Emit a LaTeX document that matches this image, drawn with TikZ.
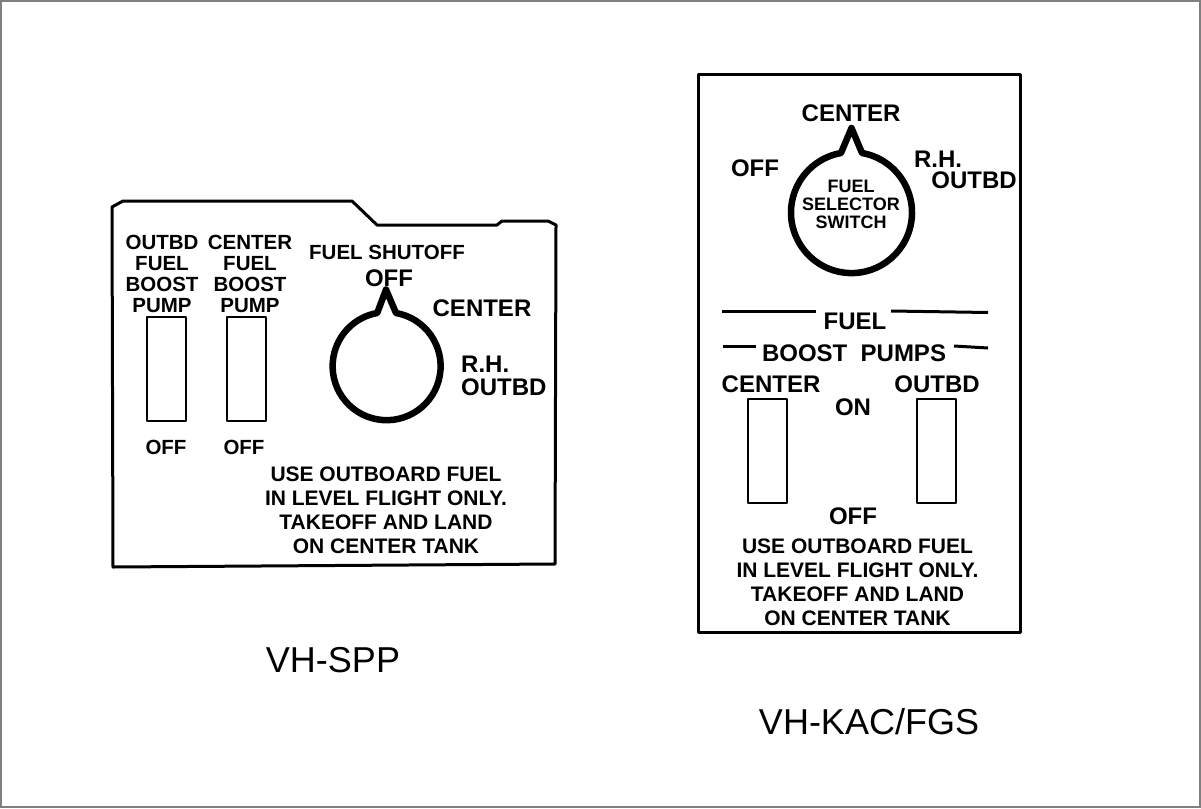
\documentclass[tikz,border=0pt]{standalone}
\usepackage{fontspec}
\setmainfont{Liberation Sans}

\begin{document}
\begin{tikzpicture}[x=1pt, y=-1pt]
        \tikzstyle{every node}=[inner sep=0pt, align=center, font=\bfseries]
        \tikzstyle{small label}=[font=\fontsize{20.5}{21}\selectfont\bfseries]
        \tikzstyle{big label}=[font=\fontsize{24}{23}\selectfont\bfseries]
        \tikzstyle{note}=[font=\fontsize{21}{24}\selectfont\bfseries]
        \tikzstyle{caption}=[font=\fontsize{36}{40}\selectfont\mdseries]
        \tikzstyle{panel}=[draw, line width=3pt, line join=round]
        \tikzstyle{toggle}=[draw, line width=2.8pt, line join=round]
        \tikzstyle{knob}=[draw, line width=6.5pt, line join=round]
        \tikzstyle{rule}=[draw, line width=3pt]

        \useasboundingbox (0,0) rectangle (1201,808);
        \draw[gray, line width=1.2pt] (1,1) rectangle (1200,807);

        % left panel
        \path[panel] (112,207) -- (123,201) -- (352,201) -- (377,225) -- (497,225)
            -- (502,221) -- (548,221) -- (556,225) -- (555,564) -- (113,567) -- cycle;
        \path[toggle] (147,317) rectangle (186,421);
        \path[toggle] (227,317) rectangle (266,421);
        \path[knob] (386,289.5) -- (396,313) arc[start angle=280, end angle=620, radius=54] -- cycle;

        \node[small label] (outbd pump) at (162,273.5) {OUTBD\\FUEL\\BOOST\\PUMP};
        \node[small label] (center pump) at (250,273.5) {CENTER\\FUEL\\BOOST\\PUMP};
        \node[small label] (shutoff) at (387,252) {FUEL SHUTOFF};
        \node[big label] (left off) at (389,278) {OFF};
        \node[big label] (left center) at (482,308) {CENTER};
        \node[big label, align=left, anchor=west] (left rh) at (461,375.5) {R.H.\\OUTBD};
        \node[small label] (off a) at (166,447) {OFF};
        \node[small label] (off b) at (244,447) {OFF};
        \node[note] (left note) at (386,510) {USE OUTBOARD FUEL\\IN LEVEL FLIGHT ONLY.\\TAKEOFF AND LAND\\ON CENTER TANK};
        \node[caption] (spp) at (333,660) {VH-SPP};

        % right panel
        \path[panel] (698.5,74) rectangle (1020.5,632);
        \path[knob] (851.5,128) -- (862,153) arc[start angle=280, end angle=620, radius=60.5] -- cycle;
        \path[toggle] (748,399) rectangle (787,503);
        \path[toggle] (917,399) rectangle (956,503);
        \path[rule] (722,311) -- (816,311);
        \path[rule] (891,311) -- (988,312.5);
        \path[rule] (723,346) -- (756,346);
        \path[rule] (954,346) -- (988,348);

        \node[big label] (top center) at (851,113) {CENTER};
        \node[big label] (right off) at (755,168) {OFF};
        \node[big label] (right rh) at (938,159) {R.H.};
        \node[big label] (right outbd) at (974,180) {OUTBD};
        \node[font=\fontsize{18}{18}\selectfont\bfseries] (selector) at (851,204) {FUEL\\SELECTOR\\SWITCH};
        \node[big label] (fuel) at (855,321) {FUEL};
        \node[big label] (boost) at (854,353) {BOOST\ \ PUMPS};
        \node[big label] (low center) at (771,384) {CENTER};
        \node[big label] (low outbd) at (937,384) {OUTBD};
        \node[big label] (on) at (853,407) {ON};
        \node[big label] (low off) at (853,516) {OFF};
        \node[note] (right note) at (857.5,582) {USE OUTBOARD FUEL\\IN LEVEL FLIGHT ONLY.\\TAKEOFF AND LAND\\ON CENTER TANK};
        \node[caption] (kac) at (869,722) {VH-KAC/FGS};
    \end{tikzpicture}
\end{document}
